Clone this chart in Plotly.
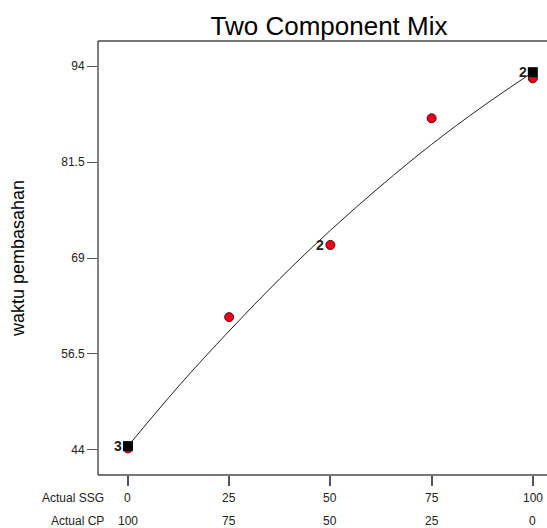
import plotly.graph_objects as go

# Mixture component proportions (SSG); CP is the complement
ssg_ticks = [0, 25, 50, 75, 100]
cp_ticks = [100, 75, 50, 25, 0]

# Observed runs
obs_ssg = [0, 25, 50, 75, 100]
obs_y = [44.2, 61.3, 70.7, 87.2, 92.4]

# Design points with replicate counts
rep_ssg = [0, 100]
rep_y = [44.5, 93.2]
rep_labels = ["3", "2"]

# Replicate label on the middle observed run
mid_label_ssg = [50]
mid_label_y = [70.7]
mid_label = ["2"]

# Fitted model curve
fit_ssg = [0, 12.5, 25, 37.5, 50, 62.5, 75, 87.5, 100]
fit_y = [44.5, 52.3, 59.5, 66.3, 72.6, 78.4, 83.8, 88.7, 93.2]

y_ticks = [44, 56.5, 69, 81.5, 94]
y_ticktext = ["44", "56.5", "69", "81.5", "94"]

FONT = "Liberation Sans, Arial, sans-serif"

fig = go.Figure()

fig.add_trace(go.Scatter(
    x=fit_ssg, y=fit_y, mode="lines",
    line=dict(color="#222222", width=1, shape="spline"),
    hoverinfo="skip", showlegend=False))

fig.add_trace(go.Scatter(
    x=obs_ssg, y=obs_y, mode="markers",
    marker=dict(symbol="circle", size=9, color="#e8001c",
                line=dict(color="#5a0000", width=1)),
    showlegend=False))

fig.add_trace(go.Scatter(
    x=rep_ssg, y=rep_y, mode="markers",
    marker=dict(symbol="square", size=10, color="#000000"),
    showlegend=False))

# Replicate count labels, placed left of their points
for xs, ys, ts in [(rep_ssg, rep_y, rep_labels), (mid_label_ssg, mid_label_y, mid_label)]:
    for xv, yv, t in zip(xs, ys, ts):
        fig.add_annotation(x=xv, y=yv, xref="x", yref="y", text="<b>%s</b>" % t,
                           showarrow=False, xanchor="right", xshift=-4,
                           font=dict(family=FONT, size=14, color="#222222"))

# Two rows of component values under the x axis
for xv, s, c in zip(ssg_ticks, ssg_ticks, cp_ticks):
    fig.add_annotation(x=xv, y=-0.053, xref="x", yref="paper", text=str(s),
                       showarrow=False, xanchor="center", yanchor="middle",
                       font=dict(family=FONT, size=12, color="#222222"))
    fig.add_annotation(x=xv, y=-0.106, xref="x", yref="paper", text=str(c),
                       showarrow=False, xanchor="center", yanchor="middle",
                       font=dict(family=FONT, size=12, color="#222222"))

for txt, yp in [("Actual SSG", -0.053), ("Actual CP", -0.106)]:
    fig.add_annotation(x=-5.4, y=yp, xref="x", yref="paper", text=txt,
                       showarrow=False, xanchor="right", yanchor="middle",
                       font=dict(family=FONT, size=12, color="#222222"))

# Frame: black left edge, grey top and bottom edges
fig.add_shape(type="line", xref="paper", yref="paper", x0=0, x1=1.05, y0=1, y1=1,
              line=dict(color="#777777", width=2))
fig.add_shape(type="line", xref="paper", yref="paper", x0=0, x1=1.05, y0=0, y1=0,
              line=dict(color="#777777", width=2))
fig.add_shape(type="line", xref="paper", yref="paper", x0=0, x1=0, y0=0, y1=1,
              line=dict(color="#000000", width=1))

fig.update_layout(
    width=547, height=528,
    margin=dict(l=98, r=0, t=41, b=53),
    paper_bgcolor="white", plot_bgcolor="white",
    title=dict(text="Two Component Mix", x=329 / 547, xanchor="center",
               y=1 - 26 / 528, yanchor="middle",
               font=dict(family=FONT, size=26, color="#000000")),
    xaxis=dict(range=[-7.4, 103.5], tickvals=ssg_ticks, showticklabels=False,
               ticks="outside", ticklen=10, tickwidth=2, tickcolor="#555555",
               showgrid=False, zeroline=False, showline=False, fixedrange=True),
    yaxis=dict(range=[40.74, 97.26], tickvals=y_ticks, ticktext=y_ticktext,
               ticks="outside", ticklen=10, tickwidth=1, tickcolor="#555555",
               tickfont=dict(family=FONT, size=12, color="#222222"),
               title=dict(text="waktu pembasahan", standoff=31,
                          font=dict(family=FONT, size=18, color="#000000")),
               showgrid=False, zeroline=False, showline=False, fixedrange=True),
)

fig.write_html("out.html")
